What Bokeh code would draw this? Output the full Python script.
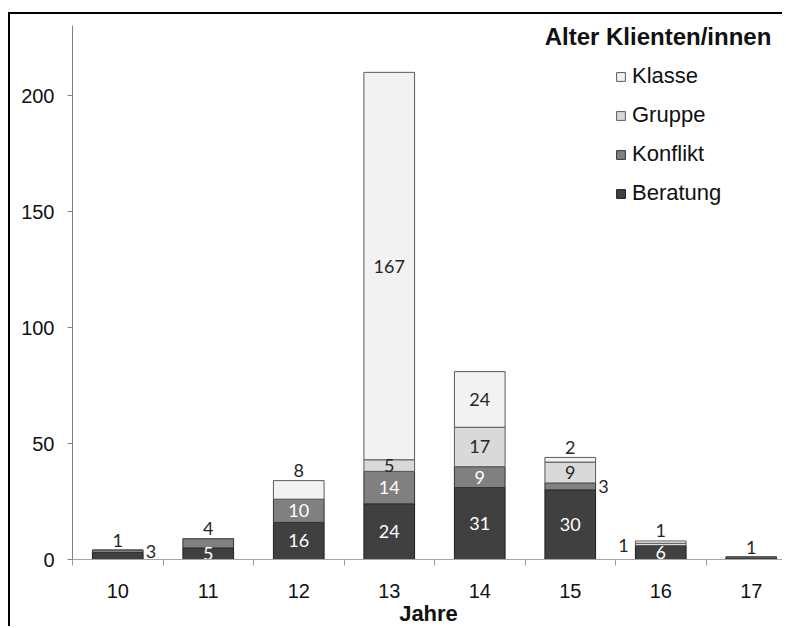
from bokeh.plotting import figure
from bokeh.models import Range1d, FixedTicker, Label, Legend, LegendItem, ColumnDataSource
from bokeh.core.properties import value
from bokeh.embed import file_html
from bokeh.resources import INLINE

# ---- data ----
years = ["10", "11", "12", "13", "14", "15", "16", "17"]
beratung = [3, 5, 16, 24, 31, 30, 6, 1]
konflikt = [1, 4, 10, 14, 9, 3, 0, 0]
gruppe = [0, 0, 0, 5, 17, 9, 1, 0]
klasse = [0, 0, 8, 167, 24, 2, 1, 0]
y_ticks = [0, 50, 100, 150, 200]
series_names = ["Beratung", "Konflikt", "Gruppe", "Klasse"]
legend_title = "Alter Klienten/innen"
x_title = "Jahre"

# ---- style ----
fills = {"Beratung": "#404040", "Konflikt": "#808080", "Gruppe": "#d9d9d9", "Klasse": "#f2f2f2"}
outlines = {"Beratung": "#1e1e1e", "Konflikt": "#333333", "Gruppe": "#5a5a5a", "Klasse": "#5a5a5a"}
# label placement for small segments
placement = {
    ("10", "Beratung"): "right", ("10", "Konflikt"): "above",
    ("11", "Konflikt"): "above", ("12", "Klasse"): "above",
    ("15", "Konflikt"): "right", ("15", "Klasse"): "above",
    ("16", "Gruppe"): "left", ("16", "Klasse"): "above",
    ("17", "Beratung"): "above",
}

PX_PER_CAT = 90.5
FRAME_W = 712
FRAME_H = 534
Y_MAX = 230.2
PX_PER_UNIT = FRAME_H / Y_MAX
BAR_W = 0.56

xs = [i + 0.5 for i in range(len(years))]
src = ColumnDataSource(dict(x=xs, Beratung=beratung, Konflikt=konflikt, Gruppe=gruppe, Klasse=klasse))

p = figure(width=62 + FRAME_W, height=614,
           x_range=Range1d(0, FRAME_W / PX_PER_CAT), y_range=Range1d(0, Y_MAX),
           output_backend="svg", toolbar_location=None,
           min_border_left=62, min_border_right=0, min_border_top=11, min_border_bottom=69)
p.styles = {"border-left": "2px solid black", "border-top": "2px solid black",
            "margin-top": "12px", "margin-left": "8px"}
p.outline_line_color = None
p.xgrid.grid_line_color = None
p.ygrid.grid_line_color = None
p.background_fill_color = "white"
p.border_fill_color = "white"

renderers = p.vbar_stack(series_names, x="x", width=BAR_W, source=src,
                         fill_color=[fills[s] for s in series_names],
                         line_color=[outlines[s] for s in series_names],
                         line_width=1)
rmap = dict(zip(series_names, renderers))

# ---- data labels ----
lx, ly, lt, lc = [], [], [], []
vals = {"Beratung": beratung, "Konflikt": konflikt, "Gruppe": gruppe, "Klasse": klasse}
for i, yr in enumerate(years):
    bottom = 0
    total = sum(vals[s][i] for s in series_names)
    for s in series_names:
        v = vals[s][i]
        if v > 0:
            mode = placement.get((yr, s), "center")
            if mode == "center":
                lx.append(xs[i]); ly.append(bottom + v / 2)
                lc.append("white" if s in ("Beratung", "Konflikt") else "#262626")
            elif mode == "above":
                lx.append(xs[i]); ly.append(total + 10 / PX_PER_UNIT)
                lc.append("#262626")
            elif mode == "right":
                lx.append(xs[i] + BAR_W / 2 + 8 / PX_PER_CAT)
                ly.append(max(bottom + v / 2, 8 / PX_PER_UNIT))
                lc.append("#262626")
            else:
                lx.append(xs[i] - BAR_W / 2 - 12 / PX_PER_CAT); ly.append(bottom + v / 2 - 0.5)
                lc.append("#262626")
            lt.append(str(v))
        bottom += v
lsrc = ColumnDataSource(dict(x=lx, y=ly, t=lt, c=lc))
p.text(x="x", y="y", text="t", text_color="c", source=lsrc, text_align="center",
       text_baseline="middle", text_font=value("Lato"), text_font_size="18px")

# ---- axes ----
xa = p.xaxis[0]
xa.ticker = FixedTicker(ticks=xs, minor_ticks=list(range(len(years) + 1)))
xa.major_label_overrides = {x: y for x, y in zip(xs, years)}
xa.major_tick_line_color = None
xa.major_tick_out = 0
xa.major_tick_in = 0
xa.minor_tick_line_color = "#9a9a9a"
xa.minor_tick_out = 6
xa.minor_tick_in = 0
xa.axis_line_color = "#a6a6a6"
xa.major_label_text_font = "Liberation Sans"
xa.major_label_text_font_size = "20px"
xa.major_label_text_color = "#111111"
xa.major_label_standoff = 18
xa.axis_label = x_title
xa.axis_label_text_font = "Liberation Sans"
xa.axis_label_text_font_style = "bold"
xa.axis_label_text_font_size = "22px"
xa.axis_label_text_color = "#111111"
xa.axis_label_standoff = 0

ya = p.yaxis[0]
ya.ticker = FixedTicker(ticks=y_ticks, minor_ticks=[])
ya.major_tick_out = 5
ya.major_tick_in = 0
ya.major_tick_line_color = "#808080"
ya.axis_line_color = "#808080"
ya.major_label_text_font = "Liberation Sans"
ya.major_label_text_font_size = "20px"
ya.major_label_text_color = "#111111"
ya.major_label_standoff = 13

# ---- legend ----
p.add_layout(Label(x=(657.5 - 72) / PX_PER_CAT, y=Y_MAX - 11 / PX_PER_UNIT, text=legend_title,
                   text_font="Liberation Sans", text_font_style="bold", text_font_size="24px",
                   text_align="center", text_baseline="middle", text_color="#111111"))
items = [LegendItem(label=s, renderers=[rmap[s]]) for s in reversed(series_names)]
leg = Legend(items=items, location=(543, 353), orientation="vertical",
             padding=0, margin=0, border_line_alpha=0, background_fill_alpha=0,
             glyph_width=11, glyph_height=11, label_height=26, spacing=13,
             label_standoff=6, label_text_font="Liberation Sans",
             label_text_font_size="22px", label_text_color="#111111")
p.add_layout(leg)

open("out.html", "w").write(file_html(p, INLINE))
